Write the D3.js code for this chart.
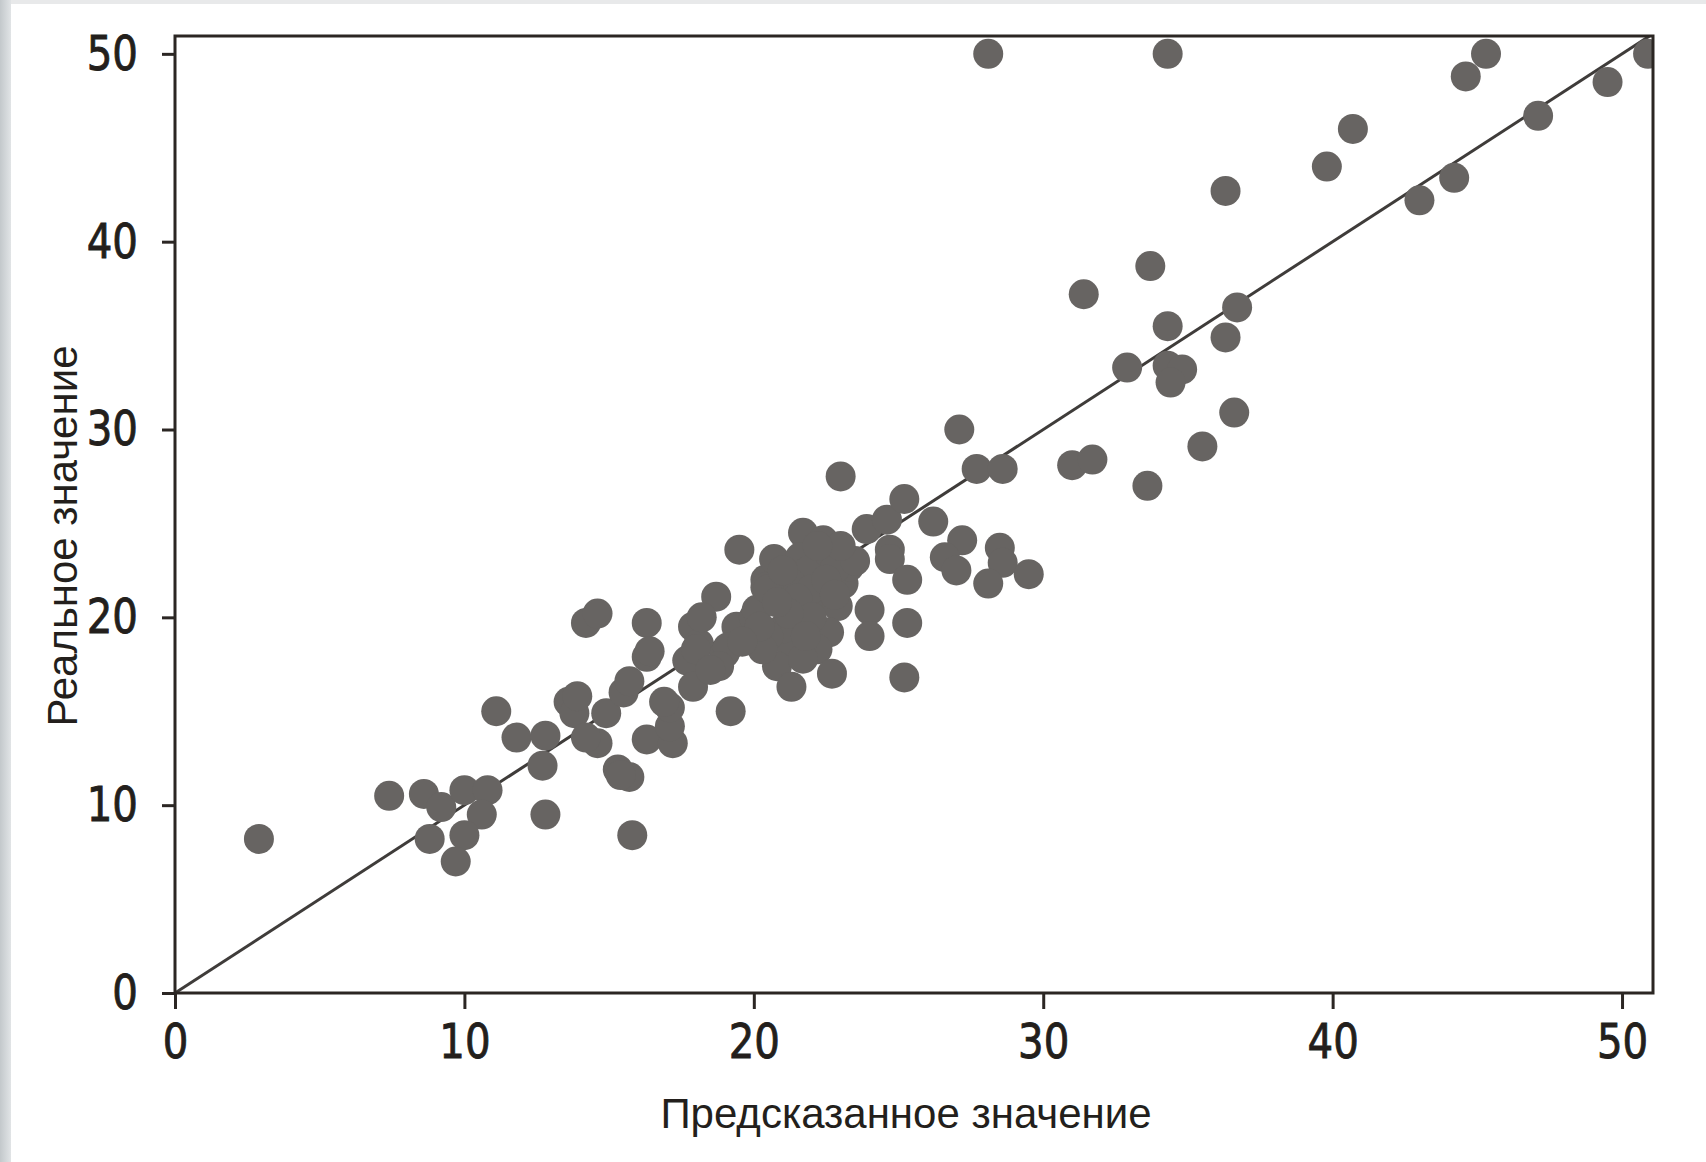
<!DOCTYPE html>
<html lang="ru">

<head>
    <meta charset="UTF-8">
    <title>Предсказанное и реальное значение</title>
    <script src="https://cdnjs.cloudflare.com/ajax/libs/d3/7.8.5/d3.min.js"></script>
</head>
<style>
    html, body {
        margin: 0;
        padding: 0;
        background: #e6e8ea;
        overflow: hidden;
    }

    #chart {
        display: block;
    }
</style>

<body>
    <svg id="chart" width="1706" height="1162"></svg>

    <script>

        var predicted = [
            2.9, 7.4, 8.6, 9.2, 10.0, 10.8, 10.6, 8.8, 10.0, 9.7,
            11.1, 11.8, 12.8, 12.7, 12.8, 13.6, 13.8, 14.9, 14.6, 14.2,
            15.5, 15.7, 15.3, 15.7, 15.4, 15.8, 16.3, 17.2, 17.1, 17.1,
            16.9, 16.3, 16.3, 16.4, 14.2, 14.6, 17.9, 18.1, 17.7, 17.9,
            18.7, 18.2, 18.0, 19.0, 19.4, 19.1, 18.8, 19.2, 19.5, 20.0,
            20.4, 20.7, 20.7, 20.1, 19.9, 21.7, 21.6, 21.9, 22.6, 21.3,
            23.1, 22.2, 21.6, 22.9, 22.6, 21.3, 22.2, 20.8, 21.3, 23.0,
            23.3, 22.7, 23.9, 24.6, 25.2, 24.7, 24.7, 25.3, 24.0, 24.0,
            25.3, 25.2, 26.2, 27.2, 26.6, 27.0, 28.5, 28.6, 28.1, 29.5,
            27.1, 27.7, 28.6, 31.0, 31.7, 33.6, 35.5, 36.6, 32.9, 34.3,
            34.8, 34.4, 34.3, 36.3, 36.7, 31.4, 33.7, 36.3, 39.8, 40.7,
            43.0, 44.2, 47.1, 49.5, 44.6, 45.3, 50.9, 28.1, 34.3,
            22.0, 22.8, 21.0, 20.5, 22.4, 23.5, 20.3, 21.7, 13.9, 20.4,
            20.5, 21.0, 21.5, 22.0, 22.5, 21.2, 20.2, 22.8, 21.8, 20.8,
            23.0, 22.2, 19.6, 18.5
        ];

        var real = [
            8.2, 10.5, 10.6, 9.9, 10.8, 10.8, 9.5, 8.2, 8.4, 7.0,
            15.0, 13.6, 13.7, 12.1, 9.5, 15.5, 14.9, 14.9, 13.3, 13.6,
            16.0, 16.6, 11.9, 11.5, 11.6, 8.4, 13.5, 13.3, 14.2, 15.2,
            15.5, 17.9, 19.7, 18.2, 19.7, 20.2, 19.5, 18.6, 17.7, 16.3,
            21.1, 20.0, 18.3, 18.1, 19.5, 18.4, 17.4, 15.0, 23.6, 20.0,
            22.0, 23.1, 21.2, 20.4, 18.8, 24.5, 23.2, 22.5, 23.4, 21.8,
            21.8, 20.9, 20.0, 20.6, 19.2, 18.4, 18.3, 17.4, 16.3, 27.5,
            22.7, 17.0, 24.7, 25.2, 26.3, 23.6, 23.1, 22.0, 20.4, 19.0,
            19.7, 16.8, 25.1, 24.1, 23.2, 22.5, 23.7, 22.9, 21.8, 22.3,
            30.0, 27.9, 27.9, 28.1, 28.4, 27.0, 29.1, 30.9, 33.3, 33.4,
            33.2, 32.5, 35.5, 34.9, 36.5, 37.2, 38.7, 42.7, 44.0, 46.0,
            42.2, 43.4, 46.7, 48.5, 48.8, 50.0, 50.0, 50.0, 50.0,
            21.5, 22.6, 19.4, 19.0, 24.1, 23.0, 18.3, 17.8, 15.8, 21.6,
            21.5, 22.5, 21.0, 20.0, 22.0, 20.2, 19.5, 21.2, 19.0, 20.8,
            23.8, 23.8, 18.7, 17.2
        ];

        var ticks = [0, 10, 20, 30, 40, 50];
        var xLimit = [0, 51.07];
        var yLimit = [0, 50.95];
        var xTitle = 'Предсказанное значение';
        var yTitle = 'Реальное значение';

        var points = predicted.map(function (p, i) {
            return { predicted: p, real: real[i] };
        });

        var svg = d3.select('#chart');

        // Page frame: grey strip on the left and on top, white sheet behind the plot
        var defs = svg.append('defs');
        var grad = defs.append('linearGradient')
            .attr('id', 'edge')
            .attr('x1', '0').attr('x2', '1');
        grad.append('stop').attr('offset', '0').attr('stop-color', '#c3c8cb');
        grad.append('stop').attr('offset', '1').attr('stop-color', '#e1e4e6');

        svg.append('rect')
            .attr('width', 1706).attr('height', 1162)
            .attr('fill', '#e8e9ea');
        svg.append('rect')
            .attr('width', 11).attr('height', 1162)
            .attr('fill', 'url(#edge)');
        svg.append('rect')
            .attr('x', 11).attr('y', 4)
            .attr('width', 1706 - 11).attr('height', 1162 - 4)
            .attr('fill', '#ffffff');

        var plot = { left: 175, right: 1653, top: 36, bottom: 993 };

        var x = d3.scaleLinear().domain(xLimit).range([plot.left, plot.right]);
        var y = d3.scaleLinear().domain(yLimit).range([plot.bottom, plot.top]);

        defs.append('clipPath')
            .attr('id', 'plotArea')
            .append('rect')
            .attr('x', plot.left).attr('y', plot.top)
            .attr('width', plot.right - plot.left)
            .attr('height', plot.bottom - plot.top);

        var inner = svg.append('g').attr('clip-path', 'url(#plotArea)');

        // Diagonal y = x, drawn under the dots
        inner.append('line')
            .attr('x1', x(0)).attr('y1', y(0))
            .attr('x2', x(xLimit[1])).attr('y2', y(xLimit[1]))
            .attr('stroke', '#3f3c3a')
            .attr('stroke-width', 3);

        inner.selectAll('circle')
            .data(points)
            .enter().append('circle')
            .attr('cx', function (d) { return x(d.predicted); })
            .attr('cy', function (d) { return y(d.real); })
            .attr('r', 15)
            .attr('fill', '#676462');

        // Axes
        var labelScale = 0.84;

        var xAxis = svg.append('g')
            .attr('transform', 'translate(0,' + plot.bottom + ')')
            .call(d3.axisBottom(x).tickValues(ticks).tickSize(16).tickPadding(15).tickSizeOuter(0));

        var yAxis = svg.append('g')
            .attr('transform', 'translate(' + plot.left + ',0)')
            .call(d3.axisLeft(y).tickValues(ticks).tickSize(13).tickPadding(25).tickSizeOuter(0));

        [xAxis, yAxis].forEach(function (axis) {
            axis.select('.domain').remove();
            axis.selectAll('.tick line')
                .attr('stroke', '#2b2623')
                .attr('stroke-width', 3);
            axis.selectAll('.tick text')
                .attr('fill', '#231f1c')
                .attr('stroke', '#231f1c')
                .attr('stroke-width', 0.9)
                .style('font-family', '"DejaVu Sans", sans-serif')
                .style('font-size', '48px');
        });

        xAxis.selectAll('.tick text')
            .attr('transform', 'scale(' + labelScale + ',1)');

        yAxis.selectAll('.tick text')
            .attr('x', -37 / labelScale)
            .attr('transform', 'scale(' + labelScale + ',1)');

        // Frame around the plot
        svg.append('rect')
            .attr('x', plot.left).attr('y', plot.top)
            .attr('width', plot.right - plot.left)
            .attr('height', plot.bottom - plot.top)
            .attr('fill', 'none')
            .attr('stroke', '#2b2623')
            .attr('stroke-width', 3);

        // Titles
        svg.append('text')
            .attr('x', (plot.left + plot.right) / 2 - 8)
            .attr('y', 1128)
            .attr('text-anchor', 'middle')
            .attr('fill', '#231f1c')
            .style('font-family', '"Liberation Sans", Arial, sans-serif')
            .style('font-size', '42px')
            .text(xTitle);

        svg.append('text')
            .attr('transform', 'translate(77,536) rotate(-90)')
            .attr('text-anchor', 'middle')
            .attr('fill', '#231f1c')
            .style('font-family', '"Liberation Sans", Arial, sans-serif')
            .style('font-size', '42px')
            .text(yTitle);
    </script>
</body>

</html>
